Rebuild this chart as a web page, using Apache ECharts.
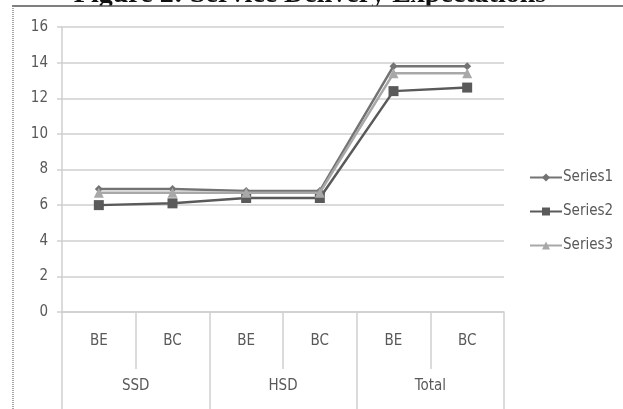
<!DOCTYPE html>
<html>
<head>
<meta charset="utf-8">
<script src="https://cdn.jsdelivr.net/npm/echarts@6/dist/echarts.min.js"></script>
<style>
  html, body { margin: 0; padding: 0; background: #ffffff; }
  #chart { width: 623px; height: 409px; }
</style>
</head>
<body>
<div id="chart"></div>
<script>
// Measurement type per domain
const categories = ['BE', 'BC', 'BE', 'BC', 'BE', 'BC'];
// Domain groups spanning two categories each
const groups = ['SSD', 'HSD', 'Total'];

const series1 = [6.9, 6.9, 6.8, 6.8, 13.8, 13.8];
const series2 = [6.0, 6.1, 6.4, 6.4, 12.4, 12.6];
const series3 = [6.7, 6.7, 6.7, 6.7, 13.4, 13.4];

const seriesNames = ['Series1', 'Series2', 'Series3'];
const titleText = 'Figure 2: Service Delivery Expectations';

const narrow = '"Liberation Sans Narrow", "DejaVu Sans Condensed", sans-serif';
const gridColor = '#cfcfcf';
const labelColor = '#595959';

const chart = echarts.init(document.getElementById('chart'), null, { renderer: 'canvas' });

chart.setOption({
  animation: false,
  backgroundColor: '#ffffff',
  graphic: [
    {
      type: 'text',
      z: -3,
      x: 310,
      y: -5,
      style: {
        text: titleText,
        font: 'bold 28px "Liberation Serif", "Times New Roman", serif',
        fill: '#111111',
        align: 'center',
        verticalAlign: 'middle'
      }
    },
    {
      type: 'rect',
      z: -2,
      shape: { x: 12, y: 6, width: 611, height: 403 },
      style: { fill: '#ffffff' }
    },
    {
      type: 'line',
      z: -1,
      shape: { x1: 12, y1: 6, x2: 623, y2: 6 },
      style: { stroke: '#555555', lineWidth: 1.5 }
    },
    {
      type: 'line',
      z: -1,
      shape: { x1: 13, y1: 6, x2: 13, y2: 409 },
      style: { stroke: '#8a8a8a', lineWidth: 1.5, lineDash: [1, 1] }
    }
  ],
  grid: {
    left: 62,
    right: 119,
    top: 27,
    bottom: 97,
    outerBoundsMode: 'none',
    containLabel: false
  },
  legend: {
    orient: 'vertical',
    left: 529,
    top: 170,
    padding: 0,
    itemWidth: 32,
    itemHeight: 10,
    itemGap: 19,
    data: seriesNames,
    textStyle: { fontFamily: narrow, fontSize: 15, color: labelColor, padding: [0, 0, 0, -4] }
  },
  xAxis: [
    {
      type: 'category',
      data: categories,
      position: 'bottom',
      boundaryGap: true,
      axisLine: { show: true, lineStyle: { color: gridColor, width: 1.5 } },
      axisTick: { show: true, interval: 0, length: 57, lineStyle: { color: gridColor, width: 1.5 } },
      axisLabel: { interval: 0, margin: 22, fontFamily: narrow, fontSize: 15, color: labelColor }
    },
    {
      type: 'category',
      data: groups,
      position: 'bottom',
      boundaryGap: true,
      axisLine: { show: false },
      axisTick: { show: true, interval: 0, length: 97, lineStyle: { color: gridColor, width: 1.5 } },
      axisLabel: { interval: 0, margin: 67, fontFamily: narrow, fontSize: 15, color: labelColor }
    }
  ],
  yAxis: {
    type: 'value',
    min: 0,
    max: 16,
    interval: 2,
    axisLine: { show: true, lineStyle: { color: gridColor, width: 1.5 } },
    axisTick: { show: true, length: 5, lineStyle: { color: gridColor, width: 1.5 } },
    splitLine: { show: true, lineStyle: { color: gridColor, width: 1.5 } },
    axisLabel: { margin: 14, fontFamily: narrow, fontSize: 15, color: labelColor }
  },
  series: [
    {
      name: seriesNames[0],
      type: 'line',
      data: series1,
      symbol: 'diamond',
      symbolSize: 8,
      color: '#737373',
      lineStyle: { width: 2.5, color: '#737373' },
      itemStyle: { color: '#737373' },
      z: 2
    },
    {
      name: seriesNames[1],
      type: 'line',
      data: series2,
      symbol: 'rect',
      symbolSize: 10,
      color: '#5a5a5a',
      lineStyle: { width: 2.5, color: '#5a5a5a' },
      itemStyle: { color: '#5a5a5a' },
      z: 3
    },
    {
      name: seriesNames[2],
      type: 'line',
      data: series3,
      symbol: 'triangle',
      symbolSize: 10,
      color: '#a8a8a8',
      lineStyle: { width: 2.5, color: '#a8a8a8' },
      itemStyle: { color: '#a8a8a8' },
      z: 4
    }
  ]
});
</script>
</body>
</html>
